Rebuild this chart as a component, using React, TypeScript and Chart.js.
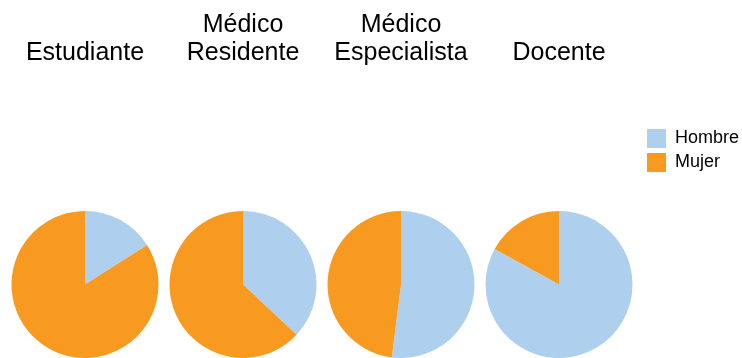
import React, { useEffect, useRef } from "react";
import { Chart, registerables } from "chart.js";

Chart.register(...registerables);

// ---- data ----
const categories: string[][] = [
  ["Estudiante"],
  ["Médico", "Residente"],
  ["Médico", "Especialista"],
  ["Docente"],
];
const genders = ["Hombre", "Mujer"];
const hombre = [16, 37, 52, 83];
const mujer = [84, 63, 48, 17];
const colors = ["#AED0EE", "#F89A20"];

const FONT = "'Liberation Sans', Arial, Helvetica, sans-serif";

const PIE_W = 148;
const PIE_H = 358;
const pieLefts = [11, 169, 327, 485];

export default function App() {
  const pieRefs = useRef<(HTMLCanvasElement | null)[]>([]);
  const legendRef = useRef<HTMLCanvasElement | null>(null);

  useEffect(() => {
    const charts: Chart[] = [];
    categories.forEach((lines, i) => {
      const canvas = pieRefs.current[i];
      if (!canvas) return;
      const titleLines = lines.length < 2 ? ["", ...lines] : lines;
      charts.push(
        new Chart(canvas, {
          type: "pie",
          data: {
            labels: genders,
            datasets: [
              {
                data: [hombre[i], mujer[i]],
                backgroundColor: colors,
                borderWidth: 0,
              },
            ],
          },
          options: {
            responsive: false,
            animation: false,
            events: [],
            layout: { padding: 0 },
            plugins: {
              legend: { display: false },
              tooltip: { enabled: false },
              title: {
                display: true,
                text: titleLines,
                color: "#000",
                font: { family: FONT, size: 25, weight: "normal", lineHeight: 1.12 },
                padding: { top: 11, bottom: 144 },
              },
            },
          } as any,
        })
      );
    });

    if (legendRef.current) {
      charts.push(
        new Chart(legendRef.current, {
          type: "pie",
          data: {
            labels: genders,
            datasets: [
              {
                data: [hombre[0], mujer[0]],
                backgroundColor: colors,
                borderWidth: 0,
              },
            ],
          },
          options: {
            responsive: false,
            animation: false,
            events: [],
            radius: 0,
            plugins: {
              tooltip: { enabled: false },
              legend: {
                display: true,
                position: "left",
                align: "start",
                labels: {
                  boxWidth: 19,
                  boxHeight: 19,
                  padding: 5,
                  color: "#000",
                  font: { family: FONT, size: 18 },
                },
              },
            },
          } as any,
        })
      );
    }

    return () => charts.forEach((c) => c.destroy());
  }, []);

  return (
    <div
      style={{
        position: "fixed",
        left: 0,
        top: 0,
        width: 742,
        height: 358,
        background: "#fff",
        overflow: "hidden",
      }}
    >
      {categories.map((_, i) => (
        <canvas
          key={i}
          ref={(el) => {
            pieRefs.current[i] = el;
          }}
          width={PIE_W}
          height={PIE_H}
          style={{
            position: "absolute",
            left: pieLefts[i],
            top: 0,
            width: PIE_W,
            height: PIE_H,
          }}
        />
      ))}
      <canvas
        ref={legendRef}
        width={260}
        height={60}
        style={{ position: "absolute", left: 642, top: 124, width: 260, height: 60 }}
      />
    </div>
  );
}
